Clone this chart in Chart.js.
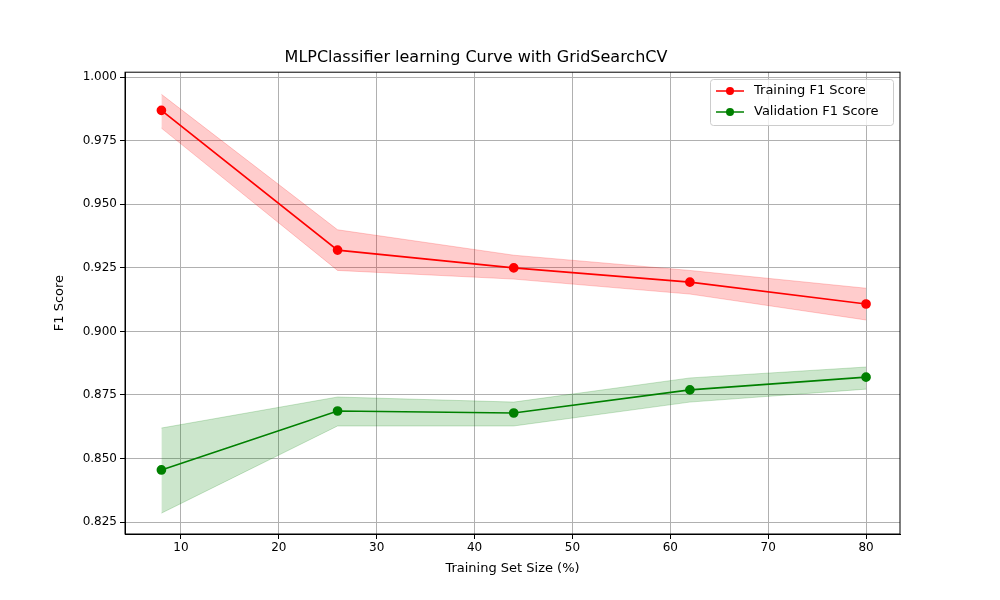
<!DOCTYPE html>
<html>
<head>
<script src="https://cdn.jsdelivr.net/npm/chart.js@4"></script>
<style>body{margin:0;background:#fff}</style>
</head>
<body>
<canvas id="c" width="1000" height="600"></canvas>
<script>
var sizes = [8, 26, 44, 62, 80];
var trainMean = [0.987, 0.932, 0.925, 0.9194, 0.9108];
var trainUpper = [0.9933, 0.940, 0.930, 0.924, 0.917];
var trainLower = [0.980, 0.924, 0.9206, 0.9147, 0.9045];
var valMean = [0.8455, 0.8687, 0.8679, 0.877, 0.882];
var valUpper = [0.862, 0.8742, 0.8722, 0.8817, 0.886];
var valLower = [0.8285, 0.8628, 0.8628, 0.8722, 0.8773];
var xTicks = [10, 20, 30, 40, 50, 60, 70, 80];
var yTicks = [0.825, 0.85, 0.875, 0.9, 0.925, 0.95, 0.975, 1.0];

function pts(ys) {
  return sizes.map(function (x, i) { return { x: x, y: ys[i] }; });
}
function band(ys, edge, fill, target) {
  return { data: pts(ys), borderColor: edge, backgroundColor: fill, borderWidth: 1, pointRadius: 0, fill: target };
}

var legendBox = {
  id: "legendBox",
  afterDraw: function (chart) {
    var ctx = chart.ctx;
    var x = 710, y = 79, w = 183, h = 46;
    ctx.save();
    ctx.fillStyle = "rgba(255,255,255,0.8)";
    ctx.strokeStyle = "#cccccc";
    ctx.lineWidth = 1;
    ctx.beginPath();
    ctx.roundRect(x + 0.5, y + 0.5, w, h, 3);
    ctx.fill();
    ctx.stroke();
    var items = [["Training F1 Score", "red"], ["Validation F1 Score", "green"]];
    ctx.font = "13px 'DejaVu Sans'";
    ctx.textBaseline = "middle";
    items.forEach(function (it, i) {
      var yy = y + 12 + i * 21;
      ctx.strokeStyle = it[1];
      ctx.fillStyle = it[1];
      ctx.lineWidth = 1.5;
      ctx.beginPath();
      ctx.moveTo(x + 6, yy);
      ctx.lineTo(x + 34, yy);
      ctx.stroke();
      ctx.beginPath();
      ctx.arc(x + 20, yy, 4, 0, Math.PI * 2);
      ctx.fill();
      ctx.fillStyle = "#000";
      ctx.fillText(it[0], x + 44, yy);
    });
    ctx.restore();
  }
};

new Chart(document.getElementById("c"), {
  type: "line",
  data: {
    datasets: [
      band(trainUpper, "rgba(255,0,0,0.2)", "rgba(255,0,0,0.2)", "+1"),
      band(trainLower, "rgba(255,0,0,0.2)", "rgba(255,0,0,0.2)", false),
      band(valUpper, "rgba(0,128,0,0.2)", "rgba(0,128,0,0.2)", "+1"),
      band(valLower, "rgba(0,128,0,0.2)", "rgba(0,128,0,0.2)", false),
      { data: pts(trainMean), borderColor: "red", backgroundColor: "red", borderWidth: 1.7, pointRadius: 4, fill: false },
      { data: pts(valMean), borderColor: "green", backgroundColor: "green", borderWidth: 1.7, pointRadius: 4, fill: false }
    ]
  },
  options: {
    responsive: false,
    animation: false,
    layout: { padding: { top: 30, right: 100, left: 52, bottom: 24 } },
    plugins: {
      legend: { display: false },
      tooltip: { enabled: false },
      title: {
        display: true,
        text: "MLPClassifier learning Curve with GridSearchCV",
        color: "#000",
        font: { family: "DejaVu Sans", size: 16, weight: "normal" },
        padding: { top: 18, bottom: 5 }
      }
    },
    scales: {
      x: {
        type: "linear",
        min: 4.28,
        max: 83.47,
        afterBuildTicks: function (s) { s.ticks = xTicks.map(function (v) { return { value: v }; }); },
        afterFit: function (s) { s.height = 42; },
        ticks: { color: "#000", font: { family: "DejaVu Sans", size: 12 }, padding: 2 },
        grid: { color: "#b0b0b0", tickColor: "#000", tickLength: 5 },
        border: { color: "#000" },
        title: { display: true, text: "Training Set Size (%)", color: "#000", font: { family: "DejaVu Sans", size: 13 }, padding: 0 }
      },
      y: {
        type: "linear",
        min: 0.8203,
        max: 1.002,
        afterBuildTicks: function (s) { s.ticks = yTicks.map(function (v) { return { value: v }; }); },
        afterFit: function (s) { s.width = 73; },
        ticks: { color: "#000", font: { family: "DejaVu Sans", size: 12 }, padding: 3,
          callback: function (v) { return v.toFixed(3); } },
        grid: { color: "#b0b0b0", tickColor: "#000", tickLength: 5 },
        border: { color: "#000" },
        title: { display: true, text: "F1 Score", color: "#000", font: { family: "DejaVu Sans", size: 13 }, padding: 0 }
      }
    }
  },
  plugins: [legendBox, {
    id: "frame",
    afterDraw: function (chart) {
      var a = chart.chartArea, ctx = chart.ctx;
      ctx.save();
      ctx.strokeStyle = "#000";
      ctx.lineWidth = 1;
      ctx.strokeRect(a.left, a.top, a.right - a.left, a.bottom - a.top);
      ctx.restore();
    }
  }]
});
</script>
</body>
</html>
